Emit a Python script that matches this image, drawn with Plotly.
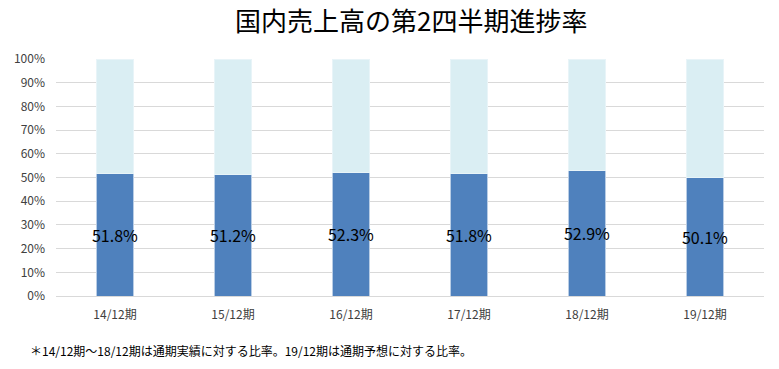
import plotly.graph_objects as go

categories = ["14/12期", "15/12期", "16/12期", "17/12期", "18/12期", "19/12期"]
progress = [51.8, 51.2, 52.3, 51.8, 52.9, 50.1]
remainder = [round(100 - v, 1) for v in progress]
y_ticks = [0, 10, 20, 30, 40, 50, 60, 70, 80, 90, 100]
y_tick_labels = [f"{t}%" for t in y_ticks]

FONT = "Noto Sans CJK JP, Noto Sans, sans-serif"

fig = go.Figure()
fig.add_trace(go.Bar(
    x=categories, y=progress,
    marker=dict(color="#4F81BD", line=dict(color="#B9CDE5", width=1)),
    text=[f"{v:.1f}%" for v in progress],
    textposition="inside", insidetextanchor="middle", textangle=0,
    constraintext="none", cliponaxis=False,
    textfont=dict(size=16, color="#000000", family=FONT),
    hoverinfo="skip",
))
fig.add_trace(go.Bar(
    x=categories, y=remainder,
    marker=dict(color="#DAEEF3", line=dict(color="#E8F4F8", width=1)),
    hoverinfo="skip",
))

fig.update_layout(
    barmode="stack",
    bargap=0.69,
    width=779, height=369,
    margin=dict(l=56, r=15, t=59, b=73, autoexpand=False),
    paper_bgcolor="white", plot_bgcolor="white",
    showlegend=False,
    font=dict(family=FONT, color="#595959"),
    title=dict(text="国内売上高の第2四半期進捗率", x=0.528, xanchor="center",
               y=0.94, yanchor="middle",
               font=dict(size=26, color="#000000", family=FONT)),
    annotations=[dict(
        text="＊14/12期〜18/12期は通期実績に対する比率。19/12期は通期予想に対する比率。",
        xref="paper", yref="paper", x=-0.04, y=-0.228, xanchor="left", yanchor="middle",
        showarrow=False, font=dict(size=12, color="#000000", family=FONT),
    )],
)
fig.update_xaxes(showgrid=False, showline=True, linecolor="#D9D9D9", linewidth=1,
                 ticks="", automargin=False, ticklabelstandoff=8,
                 tickfont=dict(size=12, color="#404040"))
fig.update_yaxes(range=[0, 100], tickvals=y_ticks, ticktext=y_tick_labels,
                 showgrid=True, gridcolor="#D9D9D9", gridwidth=1, automargin=False,
                 zeroline=False, ticks="", ticklabelstandoff=10,
                 tickfont=dict(size=12, color="#404040"))

fig.write_html("out.html", config={"displayModeBar": False})

with open("out.html", "r", encoding="utf-8") as f:
    html = f.read()
html = html.replace("<body>", '<body style="margin:0;padding:0;">', 1)
with open("out.html", "w", encoding="utf-8") as f:
    f.write(html)
